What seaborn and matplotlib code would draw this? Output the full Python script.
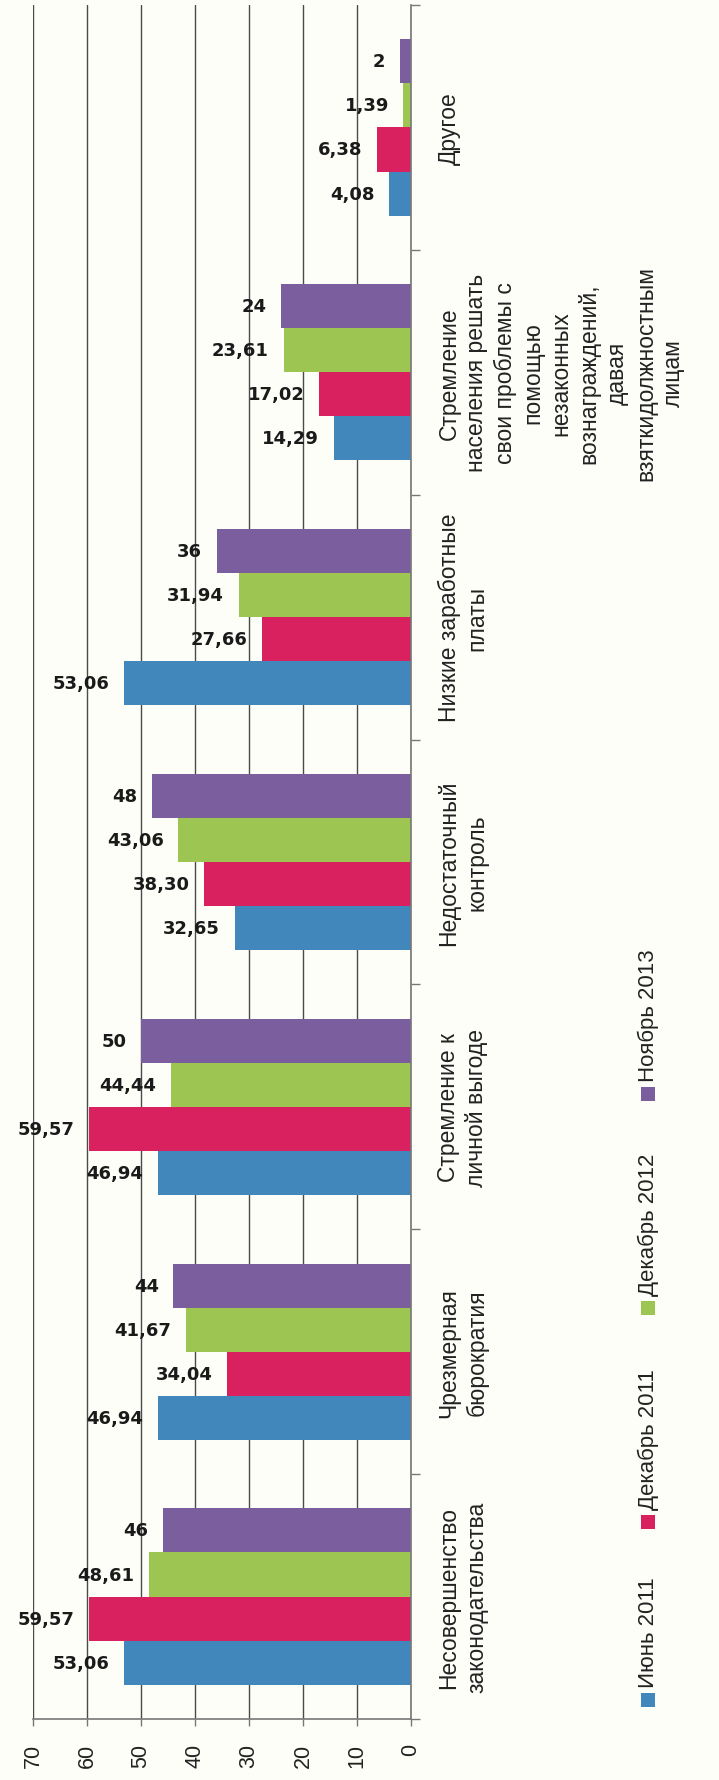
import numpy as np
import pandas as pd
import matplotlib
matplotlib.use("Agg")
import matplotlib.pyplot as plt
from matplotlib.patches import Rectangle
from matplotlib.ticker import FixedLocator, NullFormatter
import seaborn as sns

# ---------------- data ----------------
categories = [
    "Несовершенство\nзаконодательства",
    "Чрезмерная\nбюрократия",
    "Стремление к\nличной выгоде",
    "Недостаточный\nконтроль",
    "Низкие заработные\nплаты",
    "Стремление\nнаселения решать\nсвои проблемы с\nпомощью\nнезаконных\nвознаграждений,\nдавая\nвзяткидолжностным\nлицам",
    "Другое",
]
periods = ["Июнь 2011", "Декабрь 2011", "Декабрь 2012", "Ноябрь 2013"]
jun_2011 = [53.06, 46.94, 46.94, 32.65, 53.06, 14.29, 4.08]
dec_2011 = [59.57, 34.04, 59.57, 38.30, 27.66, 17.02, 6.38]
dec_2012 = [48.61, 41.67, 44.44, 43.06, 31.94, 23.61, 1.39]
nov_2013 = [46, 44, 50, 48, 36, 24, 2]
value_ticks = [0, 10, 20, 30, 40, 50, 60, 70]
colors = ["#4287bb", "#d8215e", "#9cc651", "#7a5e9e"]

series = [jun_2011, dec_2011, dec_2012, nov_2013]
df = pd.DataFrame(
    [(c, p, v) for p, vals in zip(periods, series) for c, v in zip(categories, vals)],
    columns=["category", "period", "value"],
)


def fmt(v):
    if float(v).is_integer():
        return str(int(v))
    return f"{v:.2f}".replace(".", ",")


# ---------------- style ----------------
W, H = 719, 1781
bg = "#fefef9"
sns.set_theme(style="white")
plt.rcParams["font.family"] = ["Liberation Sans", "DejaVu Sans"]

fig = plt.figure(figsize=(W / 100, H / 100), dpi=100, facecolor=bg)
ax = fig.add_axes([33 / W, (H - 1720) / H, (411 - 33) / W, (1720 - 6) / H])
ax.set_facecolor(bg)

sns.barplot(
    data=df, y="category", x="value", hue="period", orient="h",
    order=categories, hue_order=periods, palette=colors, saturation=1,
    width=0.72, gap=0, linewidth=0, legend=False, ax=ax, errorbar=None,
)

ax.set_ylim(-0.5, len(categories) - 0.5)
ax.set_xlim(70, 0)
ax.set_xlabel("")
ax.set_ylabel("")

# grid
ax.set_axisbelow(True)
ax.set_xticks(value_ticks)
ax.grid(axis="x", color="#4a4a4a", lw=1.0)
ax.grid(axis="y", visible=False)

# spines
for s in ["left", "top"]:
    ax.spines[s].set_visible(False)
for s in ["right", "bottom"]:
    ax.spines[s].set_visible(True)
    ax.spines[s].set_color("#777777")
    ax.spines[s].set_linewidth(1.2)

# value axis ticks (bottom)
ax.xaxis.tick_bottom()
ax.tick_params(axis="x", bottom=True, direction="out", length=5, width=1,
               color="#777777", pad=12, labelsize=15.5, labelcolor="#222222",
               labelrotation=90)

# category axis (right)
ax.yaxis.tick_right()
ax.set_yticks(range(len(categories)))
ax.set_yticklabels(categories)
ax.yaxis.set_minor_locator(FixedLocator(np.arange(-0.5, len(categories), 1.0)))
ax.yaxis.set_minor_formatter(NullFormatter())
ax.tick_params(axis="y", which="major", length=0, pad=19, labelsize=16.5,
               labelcolor="#222222", right=True, left=False)
ax.tick_params(axis="y", which="minor", length=6.5, width=1, color="#777777",
               direction="out", right=True, left=False)
for lbl in ax.get_yticklabels():
    lbl.set_rotation(90)
    lbl.set_ha("left")
    lbl.set_va("center")
    lbl.set_multialignment("center")
    lbl.set_linespacing(1.28)

# value labels
for cont in ax.containers:
    ax.bar_label(cont, labels=[fmt(v) for v in cont.datavalues], padding=10.5,
                 fontsize=13, fontweight="bold", family="DejaVu Sans",
                 color="#1a1a1a")

# legend (rotated, drawn manually)
marker_centers = [1701, 1523, 1309, 1095]
for period, color, cy in zip(periods, colors, marker_centers):
    fig.add_artist(Rectangle((641 / W, 1 - (cy + 7) / H), 14 / W, 14 / H,
                             transform=fig.transFigure, color=color, lw=0))
    fig.text(648 / W, 1 - (cy - 13) / H, period, rotation=90, ha="center",
             va="bottom", fontsize=16, color="#222222")

fig.savefig("out.png", dpi=100, facecolor=bg)
